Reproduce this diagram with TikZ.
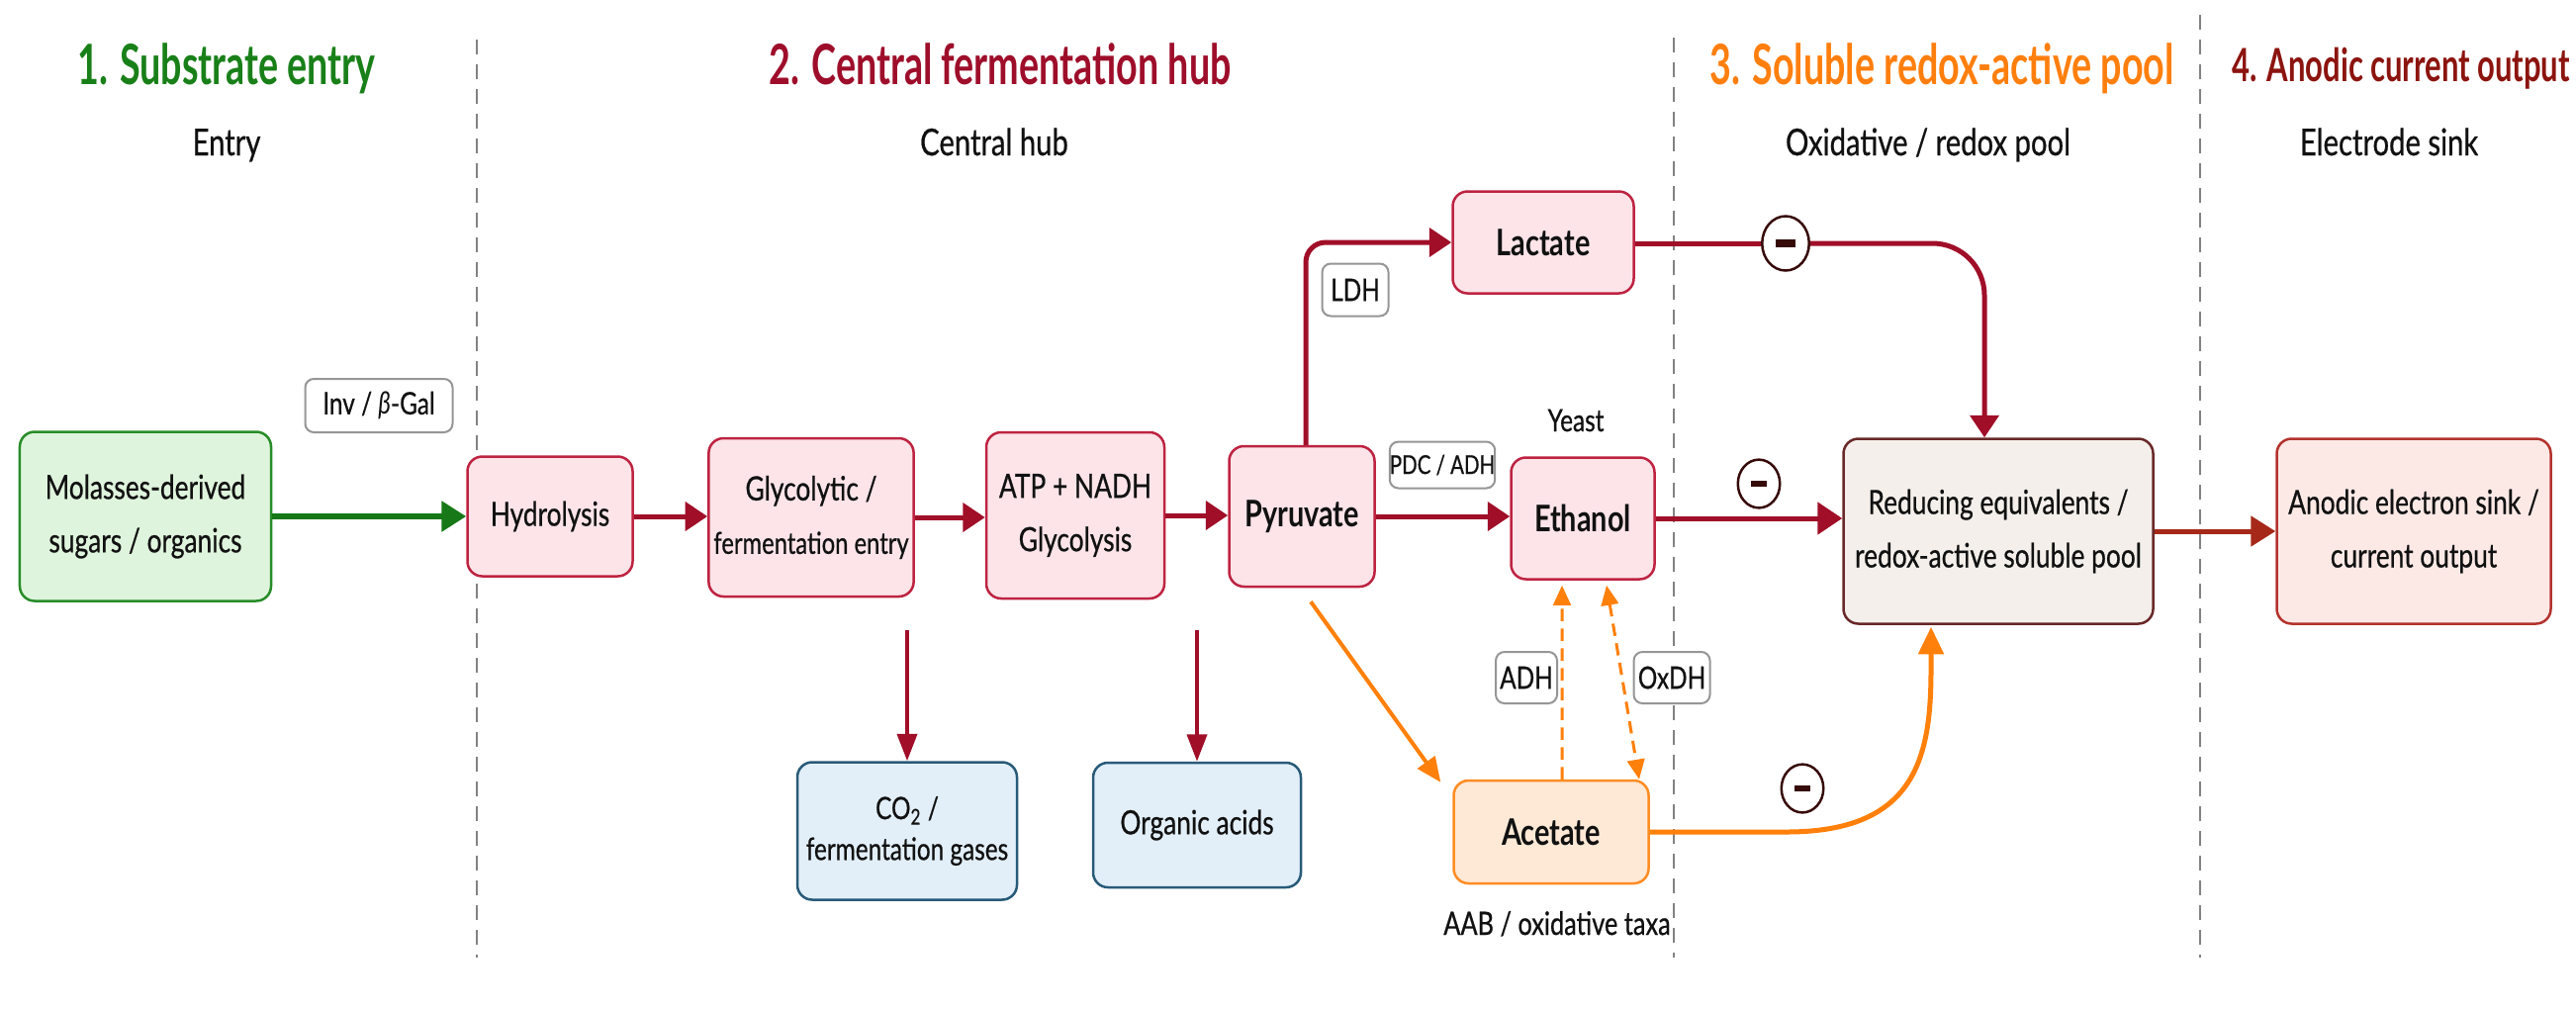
\documentclass[tikz,border=0pt]{standalone}
\usepackage{fontspec}
\setmainfont{Lato}[FakeStretch=0.78, UprightFeatures={FakeBold=0.6}]
\newfontfamily\titlefont{Lato}[FakeStretch=0.67]
\usetikzlibrary{arrows.meta,calc,shapes.geometric}
\definecolor{tgreen}{RGB}{25,128,25}
\definecolor{tred}{RGB}{158,14,42}
\definecolor{torange}{RGB}{255,127,14}
\definecolor{tbrown}{RGB}{140,20,15}
\definecolor{arrred}{RGB}{160,14,40}
\definecolor{arrgreen}{RGB}{22,120,22}
\definecolor{arrorange}{RGB}{255,128,10}
\definecolor{arrbrown}{RGB}{165,40,25}
\definecolor{pinkfill}{RGB}{252,228,233}
\definecolor{pinkdraw}{RGB}{190,35,65}
\definecolor{greenfill}{RGB}{222,244,220}
\definecolor{greendraw}{RGB}{40,140,40}
\definecolor{bluefill}{RGB}{226,239,249}
\definecolor{bluedraw}{RGB}{40,90,120}
\definecolor{orfill}{RGB}{254,233,214}
\definecolor{ordraw}{RGB}{255,140,35}
\definecolor{beigefill}{RGB}{244,239,234}
\definecolor{beigedraw}{RGB}{105,40,40}
\definecolor{anofill}{RGB}{252,233,230}
\definecolor{anodraw}{RGB}{180,50,45}
\definecolor{lblgray}{RGB}{150,150,150}
\definecolor{sepgray}{RGB}{130,130,130}
\definecolor{minusc}{RGB}{55,10,10}
\definecolor{txt}{RGB}{17,17,17}
\tikzset{
  box/.style={draw, rounded corners=6pt, line width=1pt, align=center, inner sep=2pt, text=txt,
    font=\fontsize{13.5}{21.6}\selectfont},
  pinkbox/.style={box, draw=pinkdraw, fill=pinkfill},
  greenbox/.style={box, draw=greendraw, fill=greenfill},
  bluebox/.style={box, draw=bluedraw, fill=bluefill},
  orbox/.style={box, draw=ordraw, fill=orfill},
  beigebox/.style={box, draw=beigedraw, fill=beigefill},
  anobox/.style={box, draw=anodraw, fill=anofill},
  met/.style={font=\fontsize{14.8}{20}\selectfont\bfseries},
  lbl/.style={draw=lblgray, fill=white, rounded corners=3.5pt, line width=0.8pt, inner sep=0pt,
    text=txt, font=\fontsize{12.5}{14}\selectfont},
  ttl/.style={anchor=base, font=\titlefont\bfseries\fontsize{22.5}{26}\selectfont},
  subt/.style={anchor=base, text=txt, font=\fontsize{15}{18}\selectfont},
  plain/.style={anchor=base, text=txt, font=\fontsize{13}{16}\selectfont},
  sep/.style={draw=sepgray, line width=0.8pt, dash pattern=on 6pt off 4pt},
  arr/.style={draw=arrred, line width=2pt, -{Triangle[length=9pt,width=11.5pt]}},
  thinarr/.style={draw=arrred, line width=1.6pt, -{Triangle[length=11pt,width=8pt]}},
  oarr/.style={draw=arrorange, line width=1.6pt, -{Triangle[length=10pt,width=8.5pt]}},
  darr/.style={draw=arrorange, line width=1.2pt, dash pattern=on 5pt off 3pt},
  minus/.style={ellipse, draw=minusc, line width=1pt, fill=white, inner sep=0pt,
    minimum width=17pt, minimum height=19.5pt, text=minusc},
}
\begin{document}
\begin{tikzpicture}[x=0.4pt,y=-0.4pt]
\useasboundingbox[fill=white] (0,0) rectangle (2604,1021);

% separators
\draw[sep] (482,40) -- (482,968);
\draw[sep] (1692,38) -- (1692,968);
\draw[sep] (2224,15) -- (2224,968);

% titles
\node[ttl, text=tgreen] (t1) at (229,85) {1. Substrate entry};
\node[ttl, text=tred] (t2) at (1011,85) {2. Central fermentation hub};
\node[ttl, text=torange] (t3) at (1963,85) {3. Soluble redox-active pool};
\node[ttl, text=tbrown, font=\titlefont\bfseries\fontsize{18.5}{22}\selectfont] (t4) at (2427,82) {4. Anodic current output};
\node[subt] (s1) at (229,157) {Entry};
\node[subt] (s2) at (1005,157) {Central hub};
\node[subt] (s3) at (1949,157) {Oxidative / redox pool};
\node[subt] (s4) at (2415,157) {Electrode sink};

% boxes
\node[greenbox, minimum width=101.6pt, minimum height=68.4pt] (mol) at (147,522) {Molasses-derived\\sugars / organics};
\node[pinkbox, minimum width=66.8pt, minimum height=48.4pt] (hyd) at (556,522) {Hydrolysis};
\node[pinkbox, minimum width=80.8pt, minimum height=64pt] (gly) at (820,523) {Glycolytic /\\\fontsize{12.2}{21.6}\selectfont fermentation entry};
\node[pinkbox, minimum width=72pt, minimum height=67.2pt] (atp) at (1087,521) {ATP + NADH\\Glycolysis};
\node[pinkbox, met, minimum width=58.8pt, minimum height=56.8pt] (pyr) at (1316,522) {Pyruvate};
\node[pinkbox, met, minimum width=73.2pt, minimum height=41.2pt] (lac) at (1560,245) {Lactate};
\node[pinkbox, met, minimum width=58pt, minimum height=49.2pt] (eth) at (1600,524) {Ethanol};
\node[beigebox, minimum width=125.2pt, minimum height=74.8pt] (red) at (2020,537) {Reducing equivalents /\\redox-active soluble pool};
\node[anobox, minimum width=110.8pt, minimum height=74.8pt] (ano) at (2440,537) {Anodic electron sink /\\current output};
\node[bluebox, minimum width=88.8pt, minimum height=55.6pt, font=\fontsize{12.5}{16.5}\selectfont] (co2) at (917,840) {CO\textsubscript{2} /\\fermentation gases};
\node[bluebox, minimum width=84pt, minimum height=50.4pt] (org) at (1210,834) {Organic acids};
\node[orbox, met, minimum width=78.8pt, minimum height=41.6pt] (ace) at (1568,841) {Acetate};

% enzyme labels
\node[lbl, minimum width=59.6pt, minimum height=21.6pt] (inv) at (383,410) {Inv / \textit{β}-Gal};
\node[lbl, minimum width=26.8pt, minimum height=21.2pt] (ldh) at (1370,293) {LDH};
\node[lbl, minimum width=41.6pt, minimum height=18.8pt, font=\fontsize{10.5}{12}\selectfont] (pdc) at (1458,470) {PDC / ADH};
\node[lbl, minimum width=24.8pt, minimum height=20.8pt] (adh) at (1543,685) {ADH};
\node[lbl, minimum width=30.8pt, minimum height=20.8pt] (oxdh) at (1690,685) {OxDH};

% plain labels
\node[plain, font=\fontsize{12.5}{15}\selectfont] (yeast) at (1593,436) {Yeast};
\node[plain] (aab) at (1574,945) {AAB / oxidative taxa};

% minus markers
\node[minus, minimum width=19pt, minimum height=22pt] (m1) at (1805,246) {\rule[-1.5pt]{8pt}{3pt}};
\node[minus] (m2) at (1778,489) {\rule[-1.3pt]{6.6pt}{2.6pt}};
\node[minus] (m3) at (1822,797) {\rule[-1.3pt]{6.6pt}{2.6pt}};

% main chain
\draw[arr, draw=arrgreen, line width=2.4pt, -{Triangle[length=10pt,width=12pt]}] (mol.east) -- (hyd.west);
\draw[arr] (hyd.east) -- (hyd.east -| gly.west);
\draw[arr] (gly.east) -- (gly.east -| atp.west);
\draw[arr] (atp.east) -- (atp.east -| pyr.west);
\draw[arr] (pyr.east) -- (pyr.east -| eth.west);
\draw[arr, rounded corners=8pt] ([xshift=1.6pt]pyr.north) |- (lac.west);

% side products
\draw[thinarr] ($(gly.south -| co2.north)+(0,33)$) -- (co2.north);
\draw[thinarr] ($(atp.south -| org.north)+(0,31)$) -- (org.north);

% acetate branch
\draw[oarr] ($(pyr.south)+(9,14)$) -- ($(ace.north west)+(-12,3)$);
\draw[darr, -{Triangle[length=8pt,width=7pt]}] ([xshift=4.4pt]ace.north) -- ([xshift=-8.4pt,yshift=-2pt]eth.south);
\draw[darr, {Triangle[length=8pt,width=7pt]}-{Triangle[length=8pt,width=7pt]}] ([xshift=9.6pt,yshift=-2pt]eth.south) -- ([xshift=35.6pt]ace.north);

% to redox pool
\draw[draw=arrred, line width=2pt] (lac.east |- m1.west) -- (m1.west);
\draw[arr, rounded corners=21pt] (m1.east) -| ([xshift=-5.6pt]red.north);
\draw[arr, -{Triangle[length=10pt,width=12.8pt]}] (eth.east) -- (eth.east -| red.west);
\draw[oarr, line width=2pt, -{Triangle[length=11pt,width=10pt]}] (ace.east) -- ++(138,0)
  .. controls +(130,0) and +(0,90) .. ($(red.south)+(-68,45)$) -- ($(red.south)+(-68,2)$);

% to electrode
\draw[arr, draw=arrbrown, -{Triangle[length=10pt,width=12pt]}] (red.east) -- (ano.west);
\end{tikzpicture}
\end{document}
